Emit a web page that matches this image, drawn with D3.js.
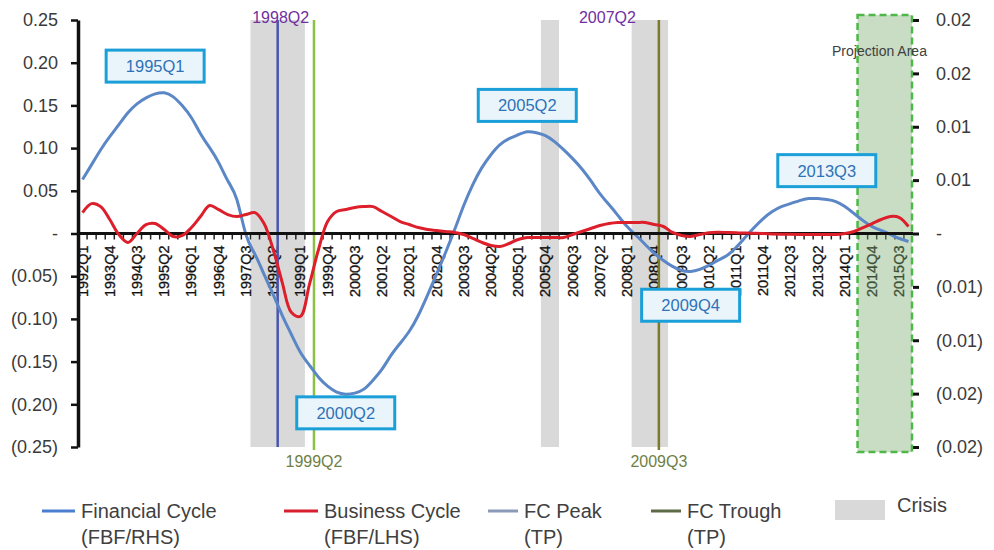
<!DOCTYPE html>
<html>
<head>
<meta charset="utf-8">
<script src="https://cdn.jsdelivr.net/npm/d3@7"></script>
<style>
  body { margin: 0; background: #fff; }
  text { font-family: "Liberation Sans", Arial, sans-serif; }
</style>
</head>
<body>
<script>
var svg_width  = 994;
var svg_height = 550;

var svg = d3.select('body').append('svg')
            .attr('width', svg_width)
            .attr('height', svg_height);

// categories: first slot is labelled 1992Q1, then quarterly from 1993Q2 to 2015Q4
var categories = ["1992Q1"];
for (var yr = 1993; yr <= 2015; yr++) {
    for (var q = 1; q <= 4; q++) {
        if (yr == 1993 && q < 2) continue;
        categories.push(yr + "Q" + q);
    }
}

// Financial cycle (right hand scale)
var financialCycle = [
  0.00505, 0.00645, 0.00785, 0.00907, 0.01019, 0.01131, 0.01215, 0.01271, 0.01308, 0.01318,
  0.01280, 0.01196, 0.01084, 0.00935, 0.00804, 0.00664, 0.00495, 0.00318, -0.00009, -0.00196,
  -0.00383, -0.00570, -0.00766, -0.00944, -0.01112, -0.01234, -0.01346, -0.01430, -0.01486, -0.01505,
  -0.01495, -0.01458, -0.01374, -0.01271, -0.01140, -0.01028, -0.00916, -0.00766, -0.00579, -0.00383,
  -0.00178, 0.00037, 0.00262, 0.00458, 0.00617, 0.00738, 0.00832, 0.00888, 0.00925, 0.00953,
  0.00944, 0.00916, 0.00860, 0.00785, 0.00701, 0.00607, 0.00495, 0.00374, 0.00271, 0.00168,
  0.00065, -0.00019, -0.00103, -0.00187, -0.00252, -0.00308, -0.00346, -0.00355, -0.00336, -0.00299,
  -0.00252, -0.00206, -0.00131, -0.00037, 0.00056, 0.00140, 0.00206, 0.00252, 0.00280, 0.00308,
  0.00327, 0.00327, 0.00318, 0.00299, 0.00252, 0.00187, 0.00121, 0.00065, 0.00028, -0.00009,
  -0.00047, -0.00075
];

// Business cycle (left hand scale)
var businessCycle = [
  0.0245, 0.0350, 0.0315, 0.0164, -0.0012, -0.0105, 0.0000, 0.0105, 0.0117, 0.0047,
  -0.0035, -0.0023, 0.0070, 0.0199, 0.0327, 0.0280, 0.0222, 0.0199, 0.0222, 0.0245,
  0.0117, -0.0187, -0.0572, -0.0923, -0.0970, -0.0596, -0.0187, 0.0140, 0.0257, 0.0280,
  0.0304, 0.0315, 0.0315, 0.0257, 0.0199, 0.0140, 0.0105, 0.0070, 0.0047, 0.0035,
  0.0023, 0.0012, -0.0012, -0.0058, -0.0105, -0.0140, -0.0152, -0.0117, -0.0070, -0.0047,
  -0.0047, -0.0047, -0.0047, -0.0047, -0.0012, 0.0023, 0.0058, 0.0093, 0.0117, 0.0129,
  0.0129, 0.0129, 0.0129, 0.0105, 0.0082, 0.0012, -0.0023, -0.0035, -0.0012, 0.0010,
  0.0015, 0.0012, 0.0008, 0.0005, 0.0003, 0.0000, -0.0005, -0.0008, -0.0010, -0.0012,
  -0.0012, -0.0012, -0.0012, -0.0012, 0.0000, 0.0023, 0.0070, 0.0117, 0.0164, 0.0199,
  0.0187, 0.0082
];

var leftTicks = [0.25, 0.20, 0.15, 0.10, 0.05, 0, -0.05, -0.10, -0.15, -0.20, -0.25];
var leftTickLabels = ["0.25", "0.20", "0.15", "0.10", "0.05", "-", "(0.05)", "(0.10)", "(0.15)", "(0.20)", "(0.25)"];
var rightTicks = [0.02, 0.015, 0.01, 0.005, 0, -0.005, -0.01, -0.015, -0.02];
var rightTickLabels = ["0.02", "0.02", "0.01", "0.01", "-", "(0.01)", "(0.01)", "(0.02)", "(0.02)"];

// crisis periods [first, last quarter]
var crisisPeriods = [["1997Q4", "1999Q1"], ["2005Q4", "2006Q1"], ["2008Q2", "2009Q1"]];
var projectionPeriod = ["2014Q3", "2015Q4"];

// turning point lines (drawn at the end of the quarter) and their labels
var peakLines   = [{cat: "1998Q2", label: "1998Q2"}];
var troughLines = [{cat: "1999Q2", label: "1999Q2", color: "#8dbf45"},
                   {cat: "2008Q4", label: "2009Q3", color: "#7a7a2a"}];
var peakOnlyLabels = [{cat: "2007Q2", label: "2007Q2"}];

// boxed cycle dates, y in left hand units
var cycleDates = [
  {cat: "1995Q1", y: 0.196},
  {cat: "2000Q2", y: -0.210},
  {cat: "2005Q2", y: 0.150},
  {cat: "2009Q4", y: -0.084},
  {cat: "2013Q3", y: 0.0736}
];

// scales
var x = d3.scaleBand().domain(categories).range([78, 913]).padding(0);
var bw = x.bandwidth();
var xc = function(c) { return x(c) + bw / 2; };
var yL = d3.scaleLinear().domain([-0.25, 0.25]).range([447, 20]);
var yR = d3.scaleLinear().domain([-0.02, 0.02]).range([447, 20]);

//crisis bands
svg.append("g").selectAll("rect")
   .data(crisisPeriods)
   .enter().append("rect")
   .attr("x", d => x(d[0]))
   .attr("width", d => x(d[1]) + bw - x(d[0]))
   .attr("y", yL(0.25))
   .attr("height", yL(-0.25) - yL(0.25))
   .attr("fill", "#d9d9d9");

//x tick marks and labels
var zeroY = yL(0);
var xg = svg.append("g");
xg.selectAll("line")
  .data(categories)
  .enter().append("line")
  .attr("x1", d => x(d)).attr("x2", d => x(d))
  .attr("y1", zeroY).attr("y2", zeroY + 6)
  .attr("stroke", "#222").attr("stroke-width", 1.5);

xg.selectAll("text")
  .data(categories.filter((d, i) => i % 3 == 0))
  .enter().append("text")
  .attr("transform", d => "translate(" + (xc(d) + 5) + "," + (zeroY + 12) + ") rotate(-90)")
  .attr("text-anchor", "end")
  .attr("font-size", 14.5)
  .attr("fill", "#111")
  .attr("stroke", "#111").attr("stroke-width", 0.3)
  .text(d => d);

//projection area
svg.append("rect")
   .attr("x", x(projectionPeriod[0]) - 1)
   .attr("width", x(projectionPeriod[1]) + bw - x(projectionPeriod[0]))
   .attr("y", 15)
   .attr("height", 437)
   .attr("fill", "rgb(120,170,110)")
   .attr("fill-opacity", 0.4)
   .attr("stroke", "#4db848")
   .attr("stroke-width", 2.5)
   .attr("stroke-dasharray", "7,4");

svg.append("text")
   .attr("x", 832).attr("y", 56)
   .attr("font-size", 14)
   .attr("fill", "#404040")
   .text("Projection Area");

//turning point lines
svg.append("g").selectAll("line")
   .data(peakLines)
   .enter().append("line")
   .attr("x1", d => x(d.cat) + bw).attr("x2", d => x(d.cat) + bw)
   .attr("y1", yL(0.25)).attr("y2", yL(-0.25))
   .attr("stroke", "#4755b0").attr("stroke-width", 2.5);

svg.append("g").selectAll("line")
   .data(troughLines)
   .enter().append("line")
   .attr("x1", d => x(d.cat) + bw).attr("x2", d => x(d.cat) + bw)
   .attr("y1", yL(0.25)).attr("y2", yL(-0.25) + 3)
   .attr("stroke", d => d.color).attr("stroke-width", 2.5);

svg.append("g").selectAll("text")
   .data(peakLines.concat(peakOnlyLabels))
   .enter().append("text")
   .attr("x", d => x(d.cat) + bw + 3)
   .attr("y", 23)
   .attr("text-anchor", "middle")
   .attr("font-size", 16)
   .attr("fill", "#7030a0")
   .text(d => d.label);

svg.append("g").selectAll("text")
   .data(troughLines)
   .enter().append("text")
   .attr("x", d => x(d.cat) + bw)
   .attr("y", 467)
   .attr("text-anchor", "middle")
   .attr("font-size", 16)
   .attr("fill", "#6f7f45")
   .text(d => d.label);

//series
var lineR = d3.line()
    .x((d, i) => xc(categories[i]))
    .y(d => yR(d))
    .curve(d3.curveNatural);
var lineL = d3.line()
    .x((d, i) => xc(categories[i]))
    .y(d => yL(d))
    .curve(d3.curveCatmullRom.alpha(0.5));

svg.append("path")
   .datum(financialCycle)
   .attr("d", lineR)
   .attr("fill", "none")
   .attr("stroke", "#5b87c7")
   .attr("stroke-width", 3);

//zero line
svg.append("line")
   .attr("x1", 78).attr("x2", 913)
   .attr("y1", zeroY).attr("y2", zeroY)
   .attr("stroke", "#111").attr("stroke-width", 3);

svg.append("path")
   .datum(businessCycle)
   .attr("d", lineL)
   .attr("fill", "none")
   .attr("stroke", "#dc1f2b")
   .attr("stroke-width", 3);

//axes
var leftAxis = svg.append("g")
   .attr("transform", "translate(78,0)")
   .call(d3.axisLeft(yL).tickValues(leftTicks)
           .tickFormat((d, i) => leftTickLabels[i])
           .tickSize(7).tickSizeOuter(0).tickPadding(13));
leftAxis.select(".domain").attr("stroke", "#111").attr("stroke-width", 3.5);
leftAxis.selectAll(".tick line").attr("stroke", "#111").attr("stroke-width", 2.5);
leftAxis.selectAll("text").attr("font-size", 18).attr("fill", "#3a3a3a")
        .attr("font-family", "Liberation Sans, Arial, sans-serif");

var rightAxis = svg.append("g")
   .attr("transform", "translate(913,0)")
   .call(d3.axisRight(yR).tickValues(rightTicks)
           .tickFormat((d, i) => rightTickLabels[i])
           .tickSize(6).tickSizeOuter(0).tickPadding(17));
rightAxis.select(".domain").remove();
rightAxis.selectAll(".tick line").attr("stroke", "#111").attr("stroke-width", 3);
rightAxis.selectAll("text").attr("font-size", 18).attr("fill", "#3a3a3a")
         .attr("font-family", "Liberation Sans, Arial, sans-serif");

//cycle date boxes
var boxes = svg.append("g").selectAll("g")
   .data(cycleDates)
   .enter().append("g")
   .attr("transform", d => "translate(" + xc(d.cat) + "," + yL(d.y) + ")");
boxes.append("rect")
   .attr("x", -49).attr("y", -16)
   .attr("width", 98).attr("height", 32)
   .attr("fill", "#eaf5fb")
   .attr("stroke", "#1b9fd9")
   .attr("stroke-width", 3);
boxes.append("text")
   .attr("text-anchor", "middle")
   .attr("y", 6)
   .attr("font-size", 16.5)
   .attr("fill", "#2e72b8")
   .text(d => d.cat);

//legend
var legendItems = [
  {x: 42,  w: 33, color: "#4a7fd0", l1: "Financial Cycle", l2: "(FBF/RHS)"},
  {x: 284, w: 34, color: "#d81f2d", l1: "Business Cycle", l2: "(FBF/LHS)"},
  {x: 488, w: 30, color: "#8a9ab8", l1: "FC Peak", l2: "(TP)"},
  {x: 651, w: 30, color: "#5d6a44", l1: "FC Trough", l2: "(TP)"}
];
var legend = svg.append("g").selectAll("g")
   .data(legendItems)
   .enter().append("g");
legend.append("line")
   .attr("x1", d => d.x).attr("x2", d => d.x + d.w)
   .attr("y1", 511).attr("y2", 511)
   .attr("stroke", d => d.color).attr("stroke-width", 3);
legend.append("text")
   .attr("x", d => d.x + d.w + 6).attr("y", 518)
   .attr("font-size", 20).attr("fill", "#404040")
   .text(d => d.l1);
legend.append("text")
   .attr("x", d => d.x + d.w + 6).attr("y", 544)
   .attr("font-size", 20).attr("fill", "#404040")
   .text(d => d.l2);

svg.append("rect")
   .attr("x", 835).attr("y", 500)
   .attr("width", 50).attr("height", 20)
   .attr("fill", "#d9d9d9");
svg.append("text")
   .attr("x", 897).attr("y", 512)
   .attr("font-size", 20).attr("fill", "#404040")
   .text("Crisis");
</script>
</body>
</html>
